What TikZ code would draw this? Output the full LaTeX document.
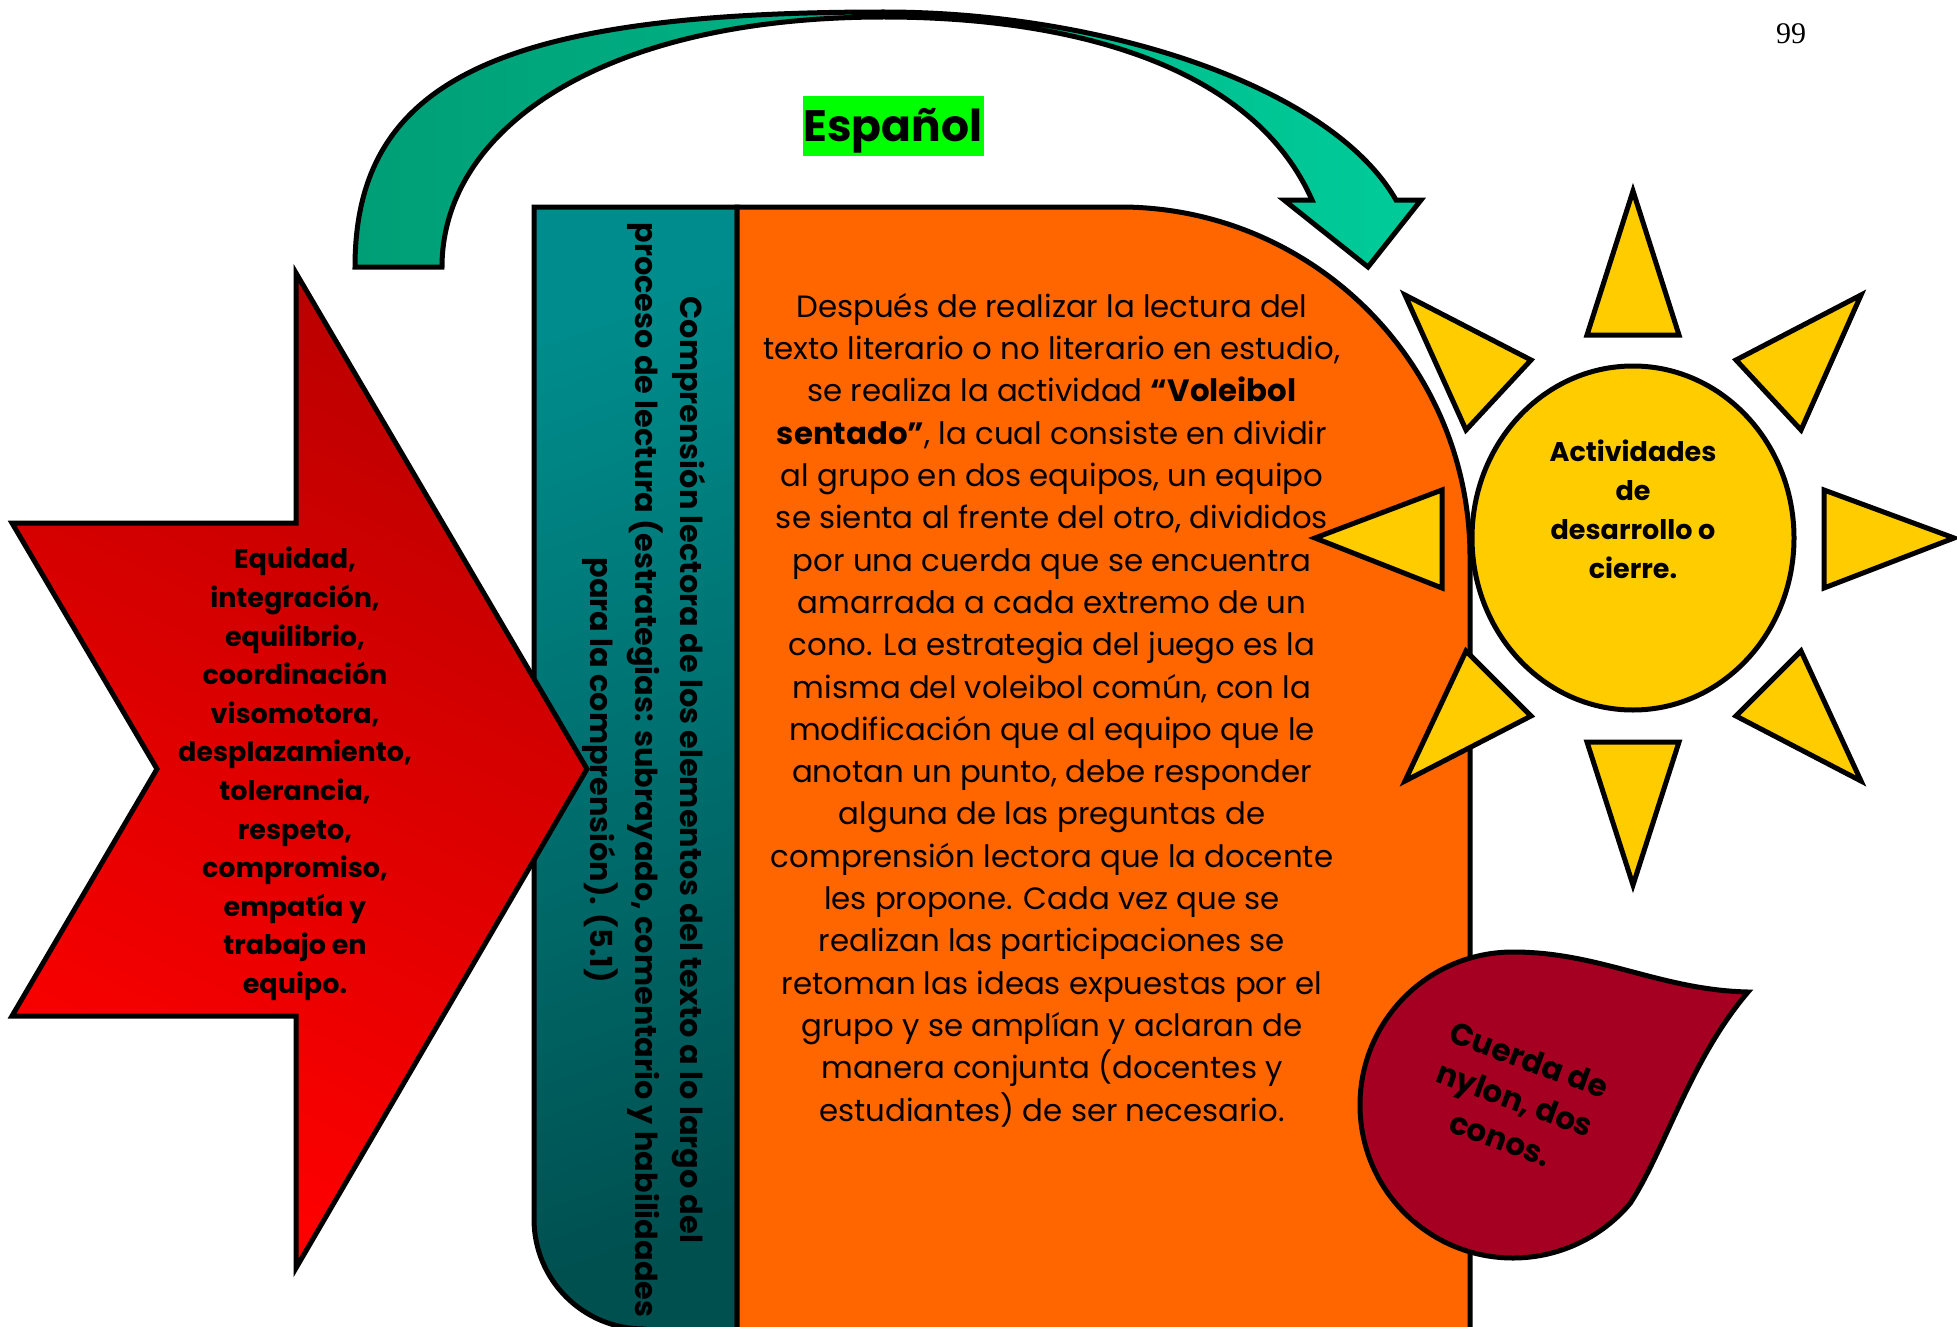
\documentclass[tikz,border=0pt]{standalone}
\usetikzlibrary{shapes.geometric}
\usepackage{fontspec}
\setmainfont{Poppins}
\newfontfamily\pagefont{Liberation Serif}
\definecolor{grA}{RGB}{0,158,118}
\definecolor{grB}{RGB}{0,204,153}
\definecolor{tealA}{RGB}{0,140,140}
\definecolor{tealB}{RGB}{0,80,80}
\definecolor{redA}{RGB}{188,0,0}
\definecolor{redB}{RGB}{255,0,0}
\definecolor{orangeC}{RGB}{255,102,0}
\definecolor{sunC}{RGB}{255,204,0}
\definecolor{leafC}{RGB}{165,0,33}
\definecolor{espC}{RGB}{0,255,0}
\tikzset{
  outl/.style={draw=black, line width=5pt, line join=miter},
  ray/.style={outl, fill=sunC},
  maintext/.style={align=center, inner sep=0pt, font=\fontsize{30.8}{42.3}\selectfont},
  boldtext/.style={align=center, inner sep=0pt, font=\bfseries\fontsize{27}{38.6}\selectfont},
}
\begin{document}
\begin{tikzpicture}[x=1pt, y=-1pt]
\useasboundingbox (0,0) rectangle (1957,1327);
\clip (0,0) rectangle (1957,1327);
% green curved arrow
\path[outl, left color=grA, right color=grB]
  (355,267) .. controls (355,80) and (500,12) .. (884,12)
  .. controls (1100,12) and (1330,85) .. (1396,200)
  -- (1421,200) -- (1368,267) -- (1284,200) -- (1312,200)
  .. controls (1250,60) and (1060,17) .. (884,17)
  .. controls (600,17) and (442,130) .. (442,267) -- cycle;
% Espanol label
\node[fill=espC, minimum width=181pt, minimum height=60pt, inner sep=0pt] (esp) at (893,126) {};
\node[inner sep=0pt, font=\bfseries\fontsize{44}{50}\selectfont] (esptext) at (893,131) {Español};
% teal bar
\path[outl, top color=tealA, bottom color=tealB, shading angle=20]
  (534,207) -- (737,207) -- (737,1345) -- (644,1345)
  -- (644,1329) .. controls (583,1329) and (534,1280) .. (534,1219) -- cycle;
% orange panel
\path[outl, fill=orangeC]
  (737,207) -- (1120,207) .. controls (1313,207) and (1470,364) .. (1470,557)
  -- (1470,1345) -- (737,1345) -- cycle;
% red arrow
\path[outl, top color=redA, bottom color=redB, shading angle=-25]
  (12,523) -- (296,523) -- (296,273) -- (587,769) -- (296,1268)
  -- (296,1016) -- (12,1016) -- (157,769) -- cycle;
% sun rays
\path[ray] (1587,335) -- (1679,335) -- (1633,191) -- cycle;
\path[ray] (1587,742) -- (1679,742) -- (1633,885) -- cycle;
\path[ray] (1442,490) -- (1442,588) -- (1315,538) -- cycle;
\path[ray] (1824,490) -- (1824,588) -- (1954,538) -- cycle;
\path[ray] (1405,295) -- (1531,360) -- (1466,430) -- cycle;
\path[ray] (1861,295) -- (1736,360) -- (1801,430) -- cycle;
\path[ray] (1405,781) -- (1466,651) -- (1531,716) -- cycle;
\path[ray] (1861,781) -- (1801,651) -- (1736,716) -- cycle;
% sun body
\node[outl, fill=sunC, ellipse, minimum width=322pt, minimum height=344pt, inner sep=0pt] (sun) at (1633,538) {};
% leaf
\path[outl, fill=leafC]
  (1748,992) .. controls (1660,990) and (1600,952) .. (1513,952)
  arc[start angle=-90, end angle=-320, radius=153]
  .. controls (1665,1150) and (1690,1060) .. (1748,992) -- cycle;
% texts
\node[maintext] (body) at (1052,710) {Después de realizar la lectura del\\
texto literario o no literario en estudio,\\
se realiza la actividad \textbf{“Voleibol}\\
\textbf{sentado”}, la cual consiste en dividir\\
al grupo en dos equipos, un equipo\\
se sienta al frente del otro, divididos\\
por una cuerda que se encuentra\\
amarrada a cada extremo de un\\
cono. La estrategia del juego es la\\
misma del voleibol común, con la\\
modificación que al equipo que le\\
anotan un punto, debe responder\\
alguna de las preguntas de\\
comprensión lectora que la docente\\
les propone. Cada vez que se\\
realizan las participaciones se\\
retoman las ideas expuestas por el\\
grupo y se amplían y aclaran de\\
manera conjunta (docentes y\\
estudiantes) de ser necesario.};
\node[boldtext] (values) at (295,774) {Equidad,\\ integración,\\ equilibrio,\\ coordinación\\ visomotora,\\ desplazamiento,\\ tolerancia,\\ respeto,\\ compromiso,\\ empatía y\\ trabajo en\\ equipo.};
\node[boldtext, font=\bfseries\fontsize{30.3}{45}\selectfont, rotate=-90] (vert) at (644,770)
  {Comprensión lectora de los elementos del texto a lo largo del\\
   proceso de lectura (estrategias: subrayado, comentario y habilidades\\
   para la comprensión). (5.1)};
\node[boldtext, font=\bfseries\fontsize{27}{39}\selectfont] (suntext) at (1633,509) {Actividades\\ de\\ desarrollo o\\ cierre.};
\node[boldtext, font=\bfseries\fontsize{31}{42}\selectfont, rotate=-20] (leaftext) at (1515,1099) {Cuerda de\\ nylon, dos\\ conos.};
\node[font=\pagefont\fontsize{30}{30}\selectfont, inner sep=0pt] (page) at (1791,34) {99};
\end{tikzpicture}
\end{document}
